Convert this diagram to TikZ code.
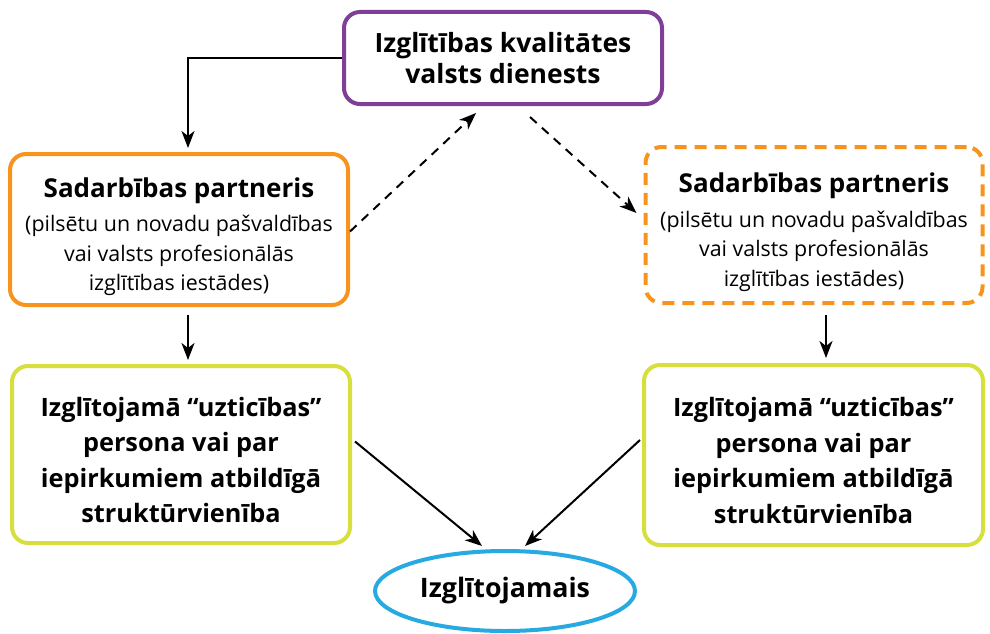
\documentclass[tikz,border=0pt]{standalone}
\usepackage{fontspec}
\setmainfont{Open Sans}
\usetikzlibrary{arrows.meta,calc,shapes.geometric}
\definecolor{cpurple}{HTML}{7F3F98}
\definecolor{corange}{HTML}{F7941D}
\definecolor{cgreen}{HTML}{D7DF3D}
\definecolor{cblue}{HTML}{27AAE1}
\newcommand{\bigb}{\fontsize{26}{30}\selectfont\bfseries}
\tikzset{
  box/.style={draw, line width=4pt, rounded corners=16pt, fill=white, align=center, inner sep=0pt},
  ttext/.style={font=\fontsize{26.5}{31}\selectfont\bfseries},
  etext/.style={font=\fontsize{26.8}{31}\selectfont\bfseries},
  ptext/.style={font=\fontsize{21.4}{29.5}\selectfont},
  gtext/.style={font=\fontsize{25.3}{35.5}\selectfont\bfseries},
  arr/.style={line width=2pt, -{Stealth[length=17pt,width=13pt,inset=5pt]}},
  darr/.style={arr, dash pattern=on 9pt off 7pt},
}
\begin{document}
\begin{tikzpicture}[x=1pt,y=-1pt]
\useasboundingbox (0,0) rectangle (990,634);
\node[box, draw=cpurple, minimum width=318pt, minimum height=92pt, ttext] (top) at (503,58)
  {Izglītības kvalitātes\\valsts dienests};
\node[box, draw=corange, minimum width=338pt, minimum height=151pt, ptext] (lp) at (179,229.5)
  {\rule{0pt}{34pt}{\bigb Sadarbības partneris}\\[5pt]
   (pilsētu un novadu pašvaldības\\ vai valsts profesionālās\\ izglītības iestādes)};
\node[box, draw=corange, dash pattern=on 12pt off 8pt, minimum width=337pt, minimum height=156pt, ptext] (rp) at (814,225)
  {\rule{0pt}{34pt}{\bigb Sadarbības partneris}\\[5pt]
   (pilsētu un novadu pašvaldības\\ vai valsts profesionālās\\ izglītības iestādes)};
\node[box, draw=cgreen, minimum width=338pt, minimum height=177pt, gtext] (lg) at (181,454.5)
  {\rule{0pt}{30pt}Izglītojamā “uzticības”\\persona vai par\\iepirkumiem atbildīgā\\struktūrvienība};
\node[box, draw=cgreen, minimum width=339pt, minimum height=180pt, gtext] (rg) at (813.5,455)
  {\rule{0pt}{30pt}Izglītojamā “uzticības”\\persona vai par\\iepirkumiem atbildīgā\\struktūrvienība};
\node[draw=cblue, line width=4pt, ellipse, minimum width=260pt, minimum height=80pt, inner sep=0pt, etext] (ell) at (505,591)
  {Izglītojamais};
\draw[arr] (top.west) -| ([xshift=9pt,yshift=4pt]lp.north);
\draw[darr] ([yshift=-2pt]lp.east) -- ([xshift=-27pt,yshift=-7pt]top.south);
\draw[darr] ([xshift=27pt,yshift=-11pt]top.south) -- ([xshift=-7pt,yshift=12pt]rp.west);
\draw[arr] ([xshift=9pt,yshift=-8pt]lp.south) -- ([xshift=9pt,yshift=4pt]lp.south |- lg.north);
\draw[arr] ([xshift=12pt,yshift=-10pt]rp.south) -- ([xshift=12pt,yshift=5pt]rp.south |- rg.north);
\draw[arr] ([xshift=3pt,yshift=13pt]lg.east) -- ([xshift=-23pt,yshift=3pt]ell.north);
\draw[arr] ([xshift=-2pt,yshift=15pt]rg.west) -- ([xshift=20pt,yshift=3pt]ell.north);
\end{tikzpicture}
\end{document}
